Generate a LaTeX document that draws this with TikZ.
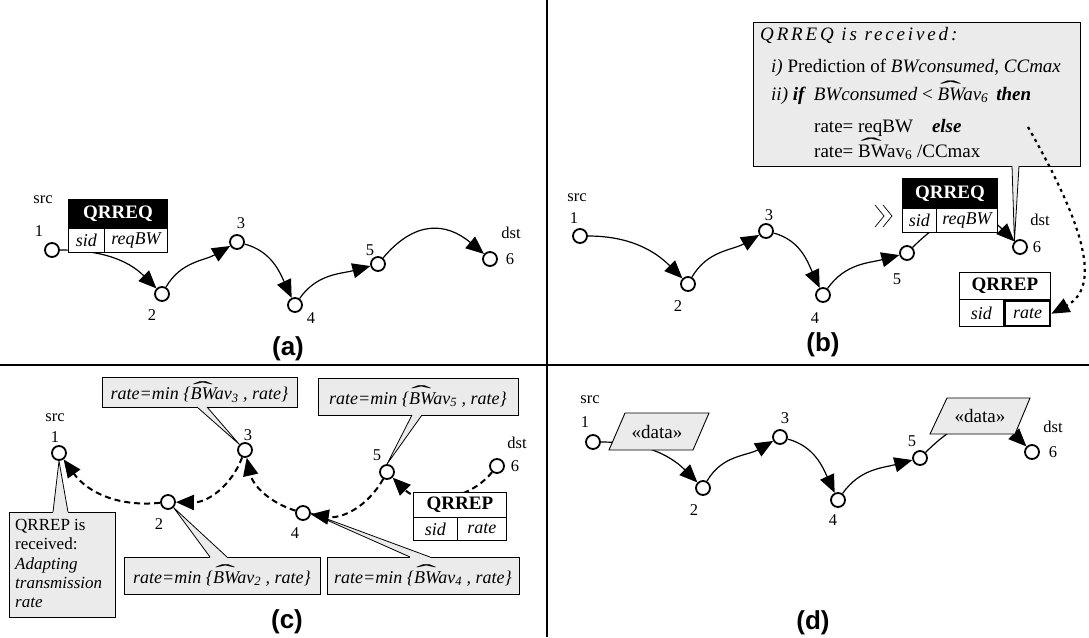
\documentclass[tikz,border=0pt]{standalone}
\usepackage{fontspec}
\setmainfont{Liberation Serif}
\newfontfamily\plabel{Liberation Sans}
\usetikzlibrary{arrows.meta}
\definecolor{callgray}{gray}{0.92}
\newcommand\hatover{\makebox[0pt][l]{\hspace{0.12em}\raisebox{0.24em}{\scalebox{3.4}[1.1]{\char"02C6}}}}
\newcommand\bwhat{\hatover\textit{BWav}}
\newcommand\bwhatup{\hatover BWav}
\newcommand\callwedge[5]{%
  \fill[callgray] (#1,#5) -- (#1,#3) -- #4 -- (#2,#3) -- (#2,#5) -- cycle;
  \draw[line width=0.8pt] (#1,#3) -- #4 -- (#2,#3);}
\tikzset{
  nd/.style={circle, draw, line width=1.8pt, minimum size=14pt, inner sep=0pt, fill=white},
  lb/.style={font=\fontsize{16.5}{19}\selectfont, inner sep=0pt},
  tip/.style={-{Triangle[length=18pt,width=15pt]}},
  ar/.style={tip, line width=1.2pt},
  dar/.style={tip, line width=2pt, dash pattern=on 6pt off 4pt},
  hdrb/.style={draw, line width=0.9pt, fill=black, text=white, font=\fontsize{19}{21}\selectfont\bfseries, inner sep=0pt, anchor=north west},
  hdrw/.style={draw, line width=0.9pt, fill=white, font=\fontsize{19}{21}\selectfont\bfseries, inner sep=0pt, anchor=north west},
  cel/.style={draw, line width=0.9pt, fill=white, font=\fontsize{18}{20}\selectfont\itshape, inner sep=0pt, anchor=north west},
  call/.style={draw, fill=callgray, line width=0.8pt, inner sep=0pt, font=\fontsize{18}{21}\selectfont},
  ctxt/.style={anchor=base west, inner sep=0pt, font=\fontsize{19}{22}\selectfont},
  ptxt/.style={font=\fontsize{26}{30}\selectfont\plabel\bfseries, inner sep=0pt},
  div/.style={line width=1.2pt},
  para/.style={draw, line width=0.9pt, fill=callgray},
  dtxt/.style={font=\fontsize{19}{22}\selectfont, inner sep=0pt},
}
\begin{document}
\begin{tikzpicture}[x=1pt,y=-1pt]
\useasboundingbox (0,0) rectangle (1089,637);
\fill[white] (0,0) rectangle (1089,637);
% dividers
\draw[div] (0,365) -- (1089,365);
\draw[div] (547,0) -- (547,637);

% ================= (a) =================
\node[nd] (a1) at (52,250) {};
\node[nd] (a2) at (162,294) {};
\node[nd] (a3) at (237,242) {};
\node[nd] (a4) at (295,305) {};
\node[nd] (a5) at (378,264) {};
\node[nd] (a6) at (490,259) {};
\node[lb] (asrc) at (43,200) {src};
\node[lb] (a1l) at (39,231) {1};
\node[lb] (a2l) at (152,315) {2};
\node[lb] (a3l) at (241,223) {3};
\node[lb] (a4l) at (311,318) {4};
\node[lb] (a5l) at (370,250) {5};
\node[lb] (a6l) at (510,259) {6};
\node[lb] (adst) at (511,233) {dst};
\draw[ar] (a1) to[out=0,in=135] (a2);
\draw[ar] (a2) to[out=60,in=210] (a3);
\draw[ar] (a3) to[out=-15,in=115] (a4);
\draw[ar] (a4) to[out=55,in=195] (a5);
\draw[ar] (a5) to[out=50,in=140,looseness=1.25] (a6);
\node[hdrb, minimum width=99pt, minimum height=29pt] (aq) at (68,199) {QRREQ};
\node[cel, minimum width=36pt, minimum height=24pt] (asid) at (68,228) {sid};
\node[cel, minimum width=63pt, minimum height=24pt] (areq) at (104,228) {reqBW};
\node[ptxt] (alab) at (288,349) {(a)};

% ================= (b) =================
\node[nd] (b1) at (580,236) {};
\node[nd] (b2) at (688,284) {};
\node[nd] (b3) at (766,231) {};
\node[nd] (b4) at (823,295) {};
\node[nd] (b5) at (907,253) {};
\node[nd] (b6) at (1020,247) {};
\node[lb] (bsrc) at (577,198) {src};
\node[lb] (b1l) at (574,218) {1};
\node[lb] (b2l) at (678,306) {2};
\node[lb] (b3l) at (769,215) {3};
\node[lb] (b4l) at (815,318) {4};
\node[lb] (b5l) at (897,279) {5};
\node[lb] (b6l) at (1037,247) {6};
\node[lb] (bdst) at (1040,220) {dst};
\draw[ar] (b1) to[out=0,in=135] (b2);
\draw[ar] (b2) to[out=60,in=210] (b3);
\draw[ar] (b3) to[out=-15,in=115] (b4);
\draw[ar] (b4) to[out=55,in=195] (b5);
\draw[ar] (b5) to[out=45,in=135,looseness=1.3] (b6);
\node[hdrb, minimum width=95pt, minimum height=30pt] (bq) at (902,178) {QRREQ};
\node[cel, minimum width=34pt, minimum height=24pt] (bsid) at (902,208) {sid};
\node[cel, minimum width=61pt, minimum height=24pt] (breq) at (936,208) {reqBW};
% sent marker
\draw[line width=0.7pt] (875,205) -- (884,216) -- (875,227);
\draw[line width=0.7pt] (883,205) -- (892,216) -- (883,227);
% QRREP
\node[hdrw, minimum width=91pt, minimum height=27pt] (bp) at (959,272) {QRREP};
\node[cel, minimum width=44pt, minimum height=27pt] (bpsid) at (959,299) {sid};
\node[cel, line width=2.4pt, minimum width=45pt, minimum height=25pt] (bprate) at (1004,300) {rate};
% callout
\node[call, minimum width=327pt, minimum height=144pt] (cb) at (916.5,94) {};
\callwedge{1012}{1019}{166}{(b6.north west)}{163}
\node[ctxt, font=\fontsize{19}{22}\selectfont\itshape\addfontfeature{LetterSpace=15}] (cb1) at (760,40) {QRREQ is received:};
\node[ctxt] (cb2) at (771,72) {\textit{i)} Prediction of \textit{BWconsumed}, \textit{CCmax}};
\node[ctxt] (cb3) at (771,100) {\textit{ii)} \textbf{\textit{if}}\, \textit{BWconsumed} < \bwhat\textsubscript{\textit{6}}\, \textbf{\textit{then}}};
\node[ctxt] (cb4) at (814,132) {rate= reqBW\quad\textbf{\textit{else}}};
\node[ctxt] (cb5) at (814,157) {rate= \bwhatup\textsubscript{6} /CCmax};
\coordinate (dots) at (1028,127);
\draw[tip, line width=2.2pt, dash pattern=on 3pt off 4pt] (dots) .. controls (1078,215) and (1105,285) .. (bprate.east);
\node[ptxt] (blab) at (823,345) {(b)};

% ================= (c) =================
\node[call, minimum width=195pt, minimum height=30pt] (k3) at (199.5,392) {\textit{rate=min \{}\bwhat\textsubscript{\textit{3}}\textit{ , rate\}}};
\node[call, minimum width=200pt, minimum height=37pt] (k5) at (418,396.5) {\textit{rate=min \{}\bwhat\textsubscript{\textit{5}}\textit{ , rate\}}};
\node[call, minimum width=196pt, minimum height=37pt] (k2) at (222,575.5) {\textit{rate=min \{}\bwhat\textsubscript{\textit{2}}\textit{ , rate\}}};
\node[call, minimum width=192pt, minimum height=37pt] (k4) at (423,575.5) {\textit{rate=min \{}\bwhat\textsubscript{\textit{4}}\textit{ , rate\}}};
\node[call, minimum width=106pt, minimum height=105pt] (k1) at (62,564.5) {};
\node[anchor=north west, align=left, inner sep=0pt, font=\fontsize{17}{19.3}\selectfont] (k1t) at (15,519) {QRREP is\\received:\\\textit{Adapting}\\\textit{transmission}\\\textit{rate}};
\node[nd] (c1) at (59,453) {};
\node[nd] (c2) at (168,502) {};
\node[nd] (c3) at (245,450) {};
\node[nd] (c4) at (303,513) {};
\node[nd] (c5) at (387,472) {};
\node[nd] (c6) at (497,466) {};
\callwedge{197}{207}{407}{(c3.north west)}{404}
\callwedge{412}{422}{415}{(c5.north)}{412}
\callwedge{53}{68}{512}{(c1.south)}{515}
\callwedge{210}{227}{557}{(c2.south east)}{560}
\callwedge{410}{430}{557}{(c4.east)}{560}
\node[lb] (csrc) at (55,418) {src};
\node[lb] (c1l) at (55,437) {1};
\node[lb] (c2l) at (159,524) {2};
\node[lb] (c3l) at (248,435) {3};
\node[lb] (c4l) at (295,533) {4};
\node[lb] (c5l) at (377,455) {5};
\node[lb] (c6l) at (515,466) {6};
\node[lb] (cdst) at (517,443) {dst};
\draw[dar] (c2) to[bend left=30] (c1);
\draw[dar] (c3) to[bend left=35] (c2);
\draw[dar] (c4) to[bend left=30] (c3);
\draw[dar] (c5) to[bend left=35] (c4);
\draw[dar] (c6) to[bend left=48] (c5);
\node[hdrw, minimum width=93pt, minimum height=25pt] (cp) at (413,492) {QRREP};
\node[cel, minimum width=44pt, minimum height=23pt] (cpsid) at (413,517) {sid};
\node[cel, minimum width=49pt, minimum height=23pt] (cprate) at (457,517) {rate};
\node[ptxt] (clab) at (287,622) {(c)};

% ================= (d) =================
\node[nd] (d1) at (593,442) {};
\node[nd] (d2) at (703,488) {};
\node[nd] (d3) at (780,437) {};
\node[nd] (d4) at (838,500) {};
\node[nd] (d5) at (920,458) {};
\node[nd] (d6) at (1032,452) {};
\node[lb] (dsrc) at (590,400) {src};
\node[lb] (d1l) at (585,422) {1};
\node[lb] (d2l) at (694,510) {2};
\node[lb] (d3l) at (785,418) {3};
\node[lb] (d4l) at (833,520) {4};
\node[lb] (d5l) at (912,441) {5};
\node[lb] (d6l) at (1053,452) {6};
\node[lb] (ddst) at (1053,427) {dst};
\draw[ar] (d1) to[out=0,in=135] (d2);
\draw[ar] (d2) to[out=60,in=210] (d3);
\draw[ar] (d3) to[out=-15,in=115] (d4);
\draw[ar] (d4) to[out=55,in=195] (d5);
\draw[ar] (d5) to[out=45,in=135,looseness=1.3] (d6);
\draw[para] (625,413) -- (709,413) -- (693,450) -- (609,450) -- cycle;
\node[dtxt] (dd1) at (657,432) {«data»};
\draw[para] (947,398) -- (1030,398) -- (1015,434) -- (930,434) -- cycle;
\node[dtxt] (dd2) at (980,416) {«data»};
\node[ptxt] (dlab) at (813,623) {(d)};
\end{tikzpicture}
\end{document}
